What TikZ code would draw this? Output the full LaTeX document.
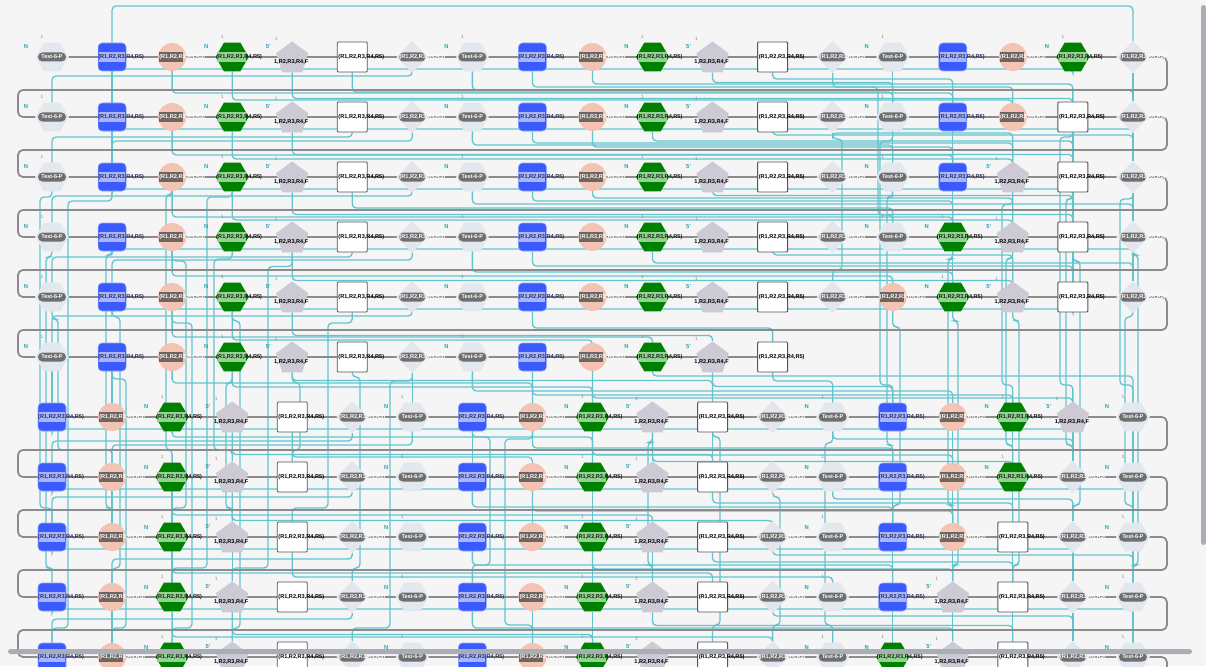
\documentclass[tikz,border=0pt]{standalone}
\usepackage{fontspec}
\setmainfont{Liberation Sans}
\usetikzlibrary{shapes.geometric}
\definecolor{bgc}{HTML}{F5F5F5}
\definecolor{cyl}{HTML}{62C5CE}
\definecolor{chain}{HTML}{8C8C8C}
\definecolor{tfill}{HTML}{E3E7EE}
\definecolor{bandc}{HTML}{6F6F6F}
\definecolor{blu}{HTML}{3A5AFD}
\definecolor{bluband}{HTML}{A8B6FF}
\definecolor{bluetxt}{HTML}{2B2B55}
\definecolor{sal}{HTML}{F3C4B4}
\definecolor{salband}{HTML}{6E6460}
\definecolor{grn}{HTML}{008000}
\definecolor{grnband}{HTML}{90D490}
\definecolor{grntxt}{HTML}{1A1A1A}
\definecolor{pen}{HTML}{CDCAD6}
\definecolor{wbord}{HTML}{555555}
\definecolor{dia}{HTML}{E3E6ED}
\definecolor{lblc}{HTML}{2AA3B3}
\definecolor{onec}{HTML}{8A8A8A}
\definecolor{sbar}{HTML}{A9AEB4}
\pgfdeclarelayer{back}
\pgfdeclarelayer{wires}
\pgfsetlayers{back,wires,main}
\newcommand\myfs[1]{\fontsize{#1}{#1}\selectfont}
\tikzset{
  cy/.style={draw=cyl, line width=1.3pt, rounded corners=4pt},
  chainl/.style={draw=chain, line width=1.8pt, rounded corners=5pt},
  tshape/.style={regular polygon, regular polygon sides=6, minimum size=33pt, inner sep=0pt, fill=tfill},
  gshape/.style={regular polygon, regular polygon sides=6, minimum size=33pt, inner sep=0pt, fill=grn},
  pshape/.style={regular polygon, regular polygon sides=5, minimum size=34pt, inner sep=0pt, fill=pen},
  bshape/.style={rectangle, rounded corners=4pt, minimum size=28pt, inner sep=0pt, fill=blu, draw=blu!55!white, line width=0.6pt},
  sshape/.style={circle, minimum size=28pt, inner sep=0pt, fill=sal},
  wshape/.style={rectangle, rounded corners=1pt, minimum size=30pt, inner sep=0pt, fill=white, draw=wbord, line width=0.9pt},
  dshape/.style={diamond, aspect=1, minimum width=32pt, minimum height=32pt, inner sep=0pt, fill=dia},
  tband/.style={rectangle, rounded corners=4.5pt, fill=bandc, minimum width=28pt, minimum height=9pt, inner sep=0pt, text=white, font=\bfseries\myfs{5.5}},
  dband/.style={rectangle, rounded corners=4pt, fill=bandc, minimum width=26pt, minimum height=9pt, inner sep=0pt},
  txt/.style={inner sep=0pt, font=\bfseries\myfs{5.6}},
  onel/.style={inner sep=0pt, text=onec, font=\myfs{4.8}},
  nl/.style={inner sep=0pt, text=lblc, font=\bfseries\myfs{5.8}}
}
\newcommand\ndT[3]{%
  \node[tshape] (#1) at (#2,#3) {};
  \node[tband] at (#2,#3) {Test-6-P};
  \node[onel] at ({#2-10},{#3-20}) {1};
  \node[nl] at ({#2-26},{#3-10}) {N};}
\newcommand\ndB[3]{%
  \node[bshape] (#1) at (#2,#3) {};
  \fill[bluband] ({#2-13},{#3-5}) rectangle ({#2+13},{#3+5});
  \node[txt, text=bluetxt, anchor=west] at ({#2-14},#3) {(R1,R2,R3,R4,R5)};}
\newcommand\ndS[3]{%
  \node[sshape] (#1) at (#2,#3) {};
  \fill[salband] ({#2-13},{#3-5}) rectangle ({#2+11},{#3+5});
  \node[txt, text=white, anchor=west] at ({#2-13},#3) {(R1,R2,R3,R4,R5)};}
\newcommand\ndG[3]{%
  \node[gshape] (#1) at (#2,#3) {};
  \fill[grnband] ({#2-15},{#3-5}) rectangle ({#2+14},{#3+5});
  \node[txt, text=grntxt, anchor=west] at ({#2-16},#3) {(R1,R2,R3,R4,R5)};
  \node[onel] at ({#2-10},{#3-20}) {1};
  \node[nl] at ({#2-26},{#3-10}) {N};}
\newcommand\ndP[3]{%
  \node[pshape] (#1) at (#2,{#3+1.5}) {};
  \node[txt] at ({#2-1},{#3+5}) {1,R2,R3,R4,F};
  \node[onel] at ({#2-16},{#3-18}) {1};
  \node[nl] at ({#2-24},{#3-10}) {5'};}
\newcommand\ndW[3]{%
  \node[wshape] (#1) at (#2,#3) {};
  \node[txt, anchor=west] at ({#2-14},#3) {(R1,R2,R3,R4,R5)};}
\newcommand\ndD[3]{%
  \node[dshape] (#1) at (#2,#3) {};
  \node[dband] at (#2,#3) {};
  \node[txt, text=white, anchor=west] at ({#2-13},#3) {(R1,R2,R3,R4,R5)};}
\newcommand\placerow[2]{%
  \pgfmathsetmacro\yy{57+60*(#1-1)}%
  \foreach \tp [count=\cc] in {#2} {%
    \pgfmathsetmacro\xx{52+60.05*(\cc-1)}%
    \csname nd\tp\endcsname{r#1c\cc}{\xx}{\yy}}}
\begin{document}
\begin{tikzpicture}[x=1pt,y=-1pt]
\useasboundingbox (0,0) rectangle (1206,666);
\begin{pgfonlayer}{back}
\fill[bgc] (0,0) rectangle (1206,666);
\end{pgfonlayer}
% ---------- nodes ----------
\placerow{1}{T,B,S,G,P,W,D,T,B,S,G,P,W,D,T,B,S,G,D}
\placerow{2}{T,B,S,G,P,W,D,T,B,S,G,P,W,D,T,B,S,W,D}
\placerow{3}{T,B,S,G,P,W,D,T,B,S,G,P,W,D,T,B,P,W,D}
\placerow{4}{T,B,S,G,P,W,D,T,B,S,G,P,W,D,T,G,P,W,D}
\placerow{5}{T,B,S,G,P,W,D,T,B,S,G,P,W,D,S,G,P,W,D}
\placerow{6}{T,B,S,G,P,W,D,T,B,S,G,P,W}
\placerow{7}{B,S,G,P,W,D,T,B,S,G,P,W,D,T,B,S,G,P,T}
\placerow{8}{B,S,G,P,W,D,T,B,S,G,P,W,D,T,B,S,G,D,T}
\placerow{9}{B,S,G,P,W,D,T,B,S,G,P,W,D,T,B,S,W,D,T}
\placerow{10}{B,S,G,P,W,D,T,B,S,G,P,W,D,T,B,P,W,D,T}
\placerow{11}{B,S,G,P,W,D,T,B,S,G,P,W,D,T,G,P,W,D,T}
% ---------- connectors ----------
\begin{pgfonlayer}{wires}
\draw[cy] (r1c2) -- ++(0,-51) -| (r1c19);
\foreach \a/\b/\d in {
 r1c2/r1c18/12, r1c7/r2c1/19, r1c3/r2c16/36, r1c4/r2c17/43, r1c5/r2c18/40,
 r1c6/r2c15/35, r1c8/r2c19/33, r1c9/r2c17/30, r1c10/r2c18/27, r1c12/r2c15/24, r1c13/r2c16/22,
 r2c2/r2c19/12, r2c6/r3c1/20, r2c7/r3c2/24, r2c3/r3c16/38, r2c4/r3c17/42, r2c5/r3c18/36,
 r2c8/r3c15/28, r2c9/r3c17/26, r2c10/r3c16/30, r2c11/r3c18/24, r2c13/r3c19/18, r2c14/r3c17/16,
 r3c2/r3c18/12, r3c7/r4c1/19, r3c3/r4c16/40, r3c4/r4c17/43, r3c5/r4c18/36, r3c6/r4c15/31,
 r3c8/r4c19/27, r3c9/r4c16/24, r3c10/r4c17/21, r3c12/r4c18/17,
 r4c2/r4c19/12, r4c6/r5c1/20, r4c7/r5c2/23, r4c3/r5c15/39, r4c5/r5c17/42, r4c8/r5c16/35,
 r4c9/r5c18/29, r4c11/r5c19/26, r4c13/r5c17/18,
 r5c2/r5c18/12, r5c7/r6c1/19, r5c3/r6c11/40, r5c5/r6c12/37, r5c9/r6c13/31, r5c4/r6c10/43,
 r6c3/r7c9/26, r6c4/r7c10/30, r6c5/r7c12/22, r6c8/r7c16/34, r6c9/r7c17/38, r6c10/r7c18/41,
 r6c11/r7c19/19, r6c12/r7c15/28, r6c13/r7c14/24,
 r7c1/r7c18/12, r7c3/r8c10/20, r7c4/r8c12/36, r7c5/r8c9/40, r7c6/r8c1/24, r7c7/r8c2/28,
 r7c9/r8c15/31, r7c10/r8c16/38, r7c11/r8c17/43, r7c14/r8c18/22,
 r8c1/r8c19/12, r8c3/r9c11/38, r8c4/r9c13/42, r8c6/r9c1/20, r8c8/r9c15/30, r8c9/r9c16/34,
 r8c12/r9c17/26, r8c14/r9c18/22,
 r9c1/r9c18/12, r9c3/r10c12/36, r9c5/r10c14/40, r9c6/r10c2/22, r9c8/r10c15/28, r9c10/r10c16/32,
 r9c12/r10c17/25, r9c13/r10c19/18,
 r10c1/r10c19/12, r10c3/r11c13/40, r10c4/r11c10/36, r10c6/r11c1/22, r10c8/r11c16/31,
 r10c11/r11c17/27, r10c13/r11c18/19,
 r11c1/r11c18/12}
 \draw[cy] (\a) -- ++(0,\d) -| (\b);
\foreach \a/\b/\d/\p/\q in {
 r3c1/r9c1/20/40/508, r4c1/r10c1/20/46/568, r5c1/r8c2/22/58/450, r3c2/r11c1/24/68/628,
 r4c2/r9c2/18/106/508, r5c2/r10c2/20/120/568, r6c2/r11c2/22/126/628,
 r3c3/r8c3/18/166/450, r4c3/r9c3/24/186/508, r5c3/r11c3/26/192/628,
 r3c4/r10c3/20/207/568, r4c4/r8c4/22/214/450, r5c4/r11c4/24/240/628, r6c4/r9c4/26/226/508,
 r4c5/r10c4/28/268/568, r6c5/r8c5/24/300/450, r5c6/r9c5/26/328/508, r6c6/r10c6/20/360/568,
 r6c7/r11c6/24/390/628,
 r2c18/r7c18/20/1060/385, r3c18/r8c18/22/1066/445, r4c18/r9c18/24/1080/505,
 r5c19/r9c19/20/1125/505, r3c19/r7c19/22/1120/385, r4c19/r10c19/18/1138/565,
 r4c17/r8c17/20/1006/445, r5c17/r10c17/22/1019/565, r3c17/r7c17/26/1002/385,
 r4c16/r9c16/22/948/505, r5c16/r10c16/24/958/565,
 r2c15/r7c15/24/880/385, r3c15/r8c15/20/887/445, r5c15/r9c15/30/900/505,
 r1c14/r4c15/30/878/215, r2c14/r5c14/22/842/270,
 r7c8/r10c8/20/490/565, r7c9/r11c9/22/505/625, r7c11/r10c11/24/648/565,
 r7c12/r11c12/20/720/625, r7c14/r11c14/26/825/625, r8c13/r11c13/20/780/625}
 \draw[cy] (\a) -- ++(0,\d) -| (\p,\q) -| (\b);
\foreach \a/\b in {
 r1c2/r2c2, r2c2/r3c2, r1c15/r2c15, r2c15/r3c15, r2c16/r3c16, r3c16/r4c16, r4c16/r5c16,
 r2c18/r3c18, r3c18/r4c18, r4c18/r5c18, r1c19/r2c19, r2c19/r3c19, r3c19/r4c19, r4c19/r5c19,
 r3c17/r4c17, r4c17/r5c17, r6c1/r7c1, r6c2/r7c2, r6c7/r7c7,
 r7c8/r8c8, r7c10/r8c10, r7c11/r8c11, r7c12/r8c12, r7c16/r8c16, r7c17/r8c17, r7c18/r8c18, r7c19/r8c19,
 r8c2/r9c2, r8c3/r9c3, r8c9/r9c9, r8c10/r9c10, r8c15/r9c15, r8c16/r9c16, r8c17/r9c17, r8c19/r9c19,
 r9c3/r10c3, r9c4/r10c4, r9c10/r10c10, r9c11/r10c11, r9c15/r10c15, r9c16/r10c16, r9c17/r10c17,
 r9c18/r10c18, r9c19/r10c19,
 r10c2/r11c2, r10c4/r11c4, r10c9/r11c9, r10c10/r11c10, r10c15/r11c15, r10c16/r11c16,
 r10c17/r11c17, r10c18/r11c18, r10c19/r11c19}
 \draw[cy] (\a) -- (\b);
% gray chain
\foreach \rr in {1,...,5,7,8,9,10} {%
  \pgfmathtruncatemacro\nr{\rr+1}%
  \pgfmathsetmacro\yc{57+60*(\rr-1)+33}%
  \draw[chainl] (r\rr c1) -- (r\rr c19) -- ++(34,0) -- ++(0,33) -- (18,\yc) -- (18,{\yc+27}) -- (r\nr c1);}
\draw[chainl] (r6c1) -- (r6c13);
\draw[chainl] (r11c1) -- (r11c19) -- ++(34,0) -- ++(0,40);
\end{pgfonlayer}
% scrollbars
\fill[sbar, rounded corners=2.5pt] (1201,5) rectangle (1206,545);
\fill[sbar, rounded corners=2.5pt] (8,649) rectangle (1192,654);
\end{tikzpicture}
\end{document}
